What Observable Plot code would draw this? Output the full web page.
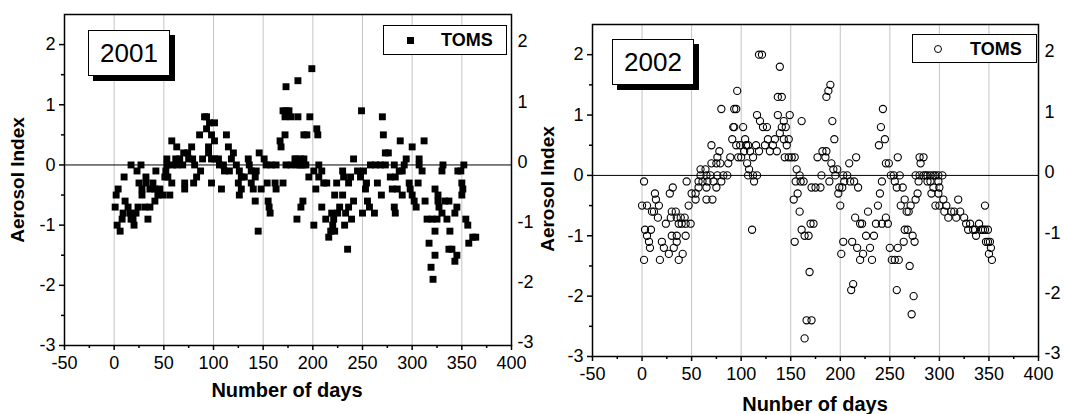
<!DOCTYPE html>
<html>
<head>
<meta charset="utf-8">
<script src="https://cdn.jsdelivr.net/npm/d3@7"></script>
<script src="https://cdn.jsdelivr.net/npm/@observablehq/plot@0.6"></script>
<style>
  html, body { margin: 0; padding: 0; background: #fff; }
  #wrap { position: relative; width: 1065px; height: 414px; overflow: hidden; font-family: "Liberation Sans", Arial, Helvetica, sans-serif; color: #000; }
  .panel { position: absolute; top: 0; }
  .title { position: absolute; font-weight: bold; font-size: 20px; white-space: nowrap; transform: translate(-50%, -50%); }
  .ytitle { position: absolute; font-weight: bold; font-size: 19px; white-space: nowrap; transform: translate(-50%, -50%) rotate(-90deg); }
  .year { position: absolute; background: #fff; border: 1px solid #000; box-shadow: 5px 5px 0 #000; font-size: 26px; display: flex; align-items: center; justify-content: center; box-sizing: border-box; }
  .legend { position: absolute; background: #fff; border: 1px solid #000; box-sizing: border-box; font-weight: bold; font-size: 18px; }
  .legend .lab { position: absolute; top: 50%; transform: translateY(-50%); }
  .sq { position: absolute; width: 7px; height: 7px; background: #000; }
  .ci { position: absolute; width: 8px; height: 8px; border: 1px solid #000; border-radius: 50%; box-sizing: border-box; }
</style>
</head>
<body>
<div id="wrap"></div>
<script>
// ---- Data ----
const days2001 = [17,27,23,10,4,2,1,3,6,11,14,9,8,16,19,20,24,22,17,25,28,28,32,32,36,39,42,41,46,44,41,31,36,34,49,56,
  53,52,51,54,53,58,58,63,62,66,59,63,69,70,74,78,79,75,71,71,80,81,87,83,86,91,93,93,96,101,98,101,95,95,89,98,101,105,106,110,98,108,
  113,115,120,118,111,116,123,126,125,126,128,131,128,135,136,138,138,140,142,143,142,145,146,148,151,153,154,155,156,157,162,163,158,163,
  170,173,178,182,167,168,173,170,173,176,172,178,172,
  185,199,185,197,204,205,191,194,249,270,271,273,276,288,300,312,241,
  183,188,191,184,187,190,193,
  206,201,209,196,206,211,214,203,184,188,190,201,209,213,219,221,220,218,216,222,224,222,230,227,225,233,236,232,239,235,230,231,236,238,241,
  245,248,251,250,254,253,255,257,262,258,263,268,273,265,269,278,283,280,285,282,283,290,282,287,290,292,294,297,298,300,302,304,306,307,307,310,
  313,315,320,325,323,317,323,319,321,323,326,326,327,330,331,330,333,335,337,338,337,340,343,345,343,345,346,349,352,350,351,350,354,356,357,361,364];
const aai2001 = [0,0,-0.1,-0.2,-0.4,-0.5,-0.7,-1.0,-1.1,-0.6,-0.7,-0.8,-0.9,-0.8,-0.9,-1.0,-0.7,-0.8,-0.9,-0.3,-0.4,-0.5,-0.2,-0.3,-0.4,-0.3,-0.1,-0.4,-0.4,-0.5,-0.6,-0.7,-0.7,-0.9,-0.5,-0.5,
  0,-0.1,-0.2,-0.2,0.1,-0.3,0.4,0.3,0.1,0.1,0,0,0,0.2,0.2,0.3,0.1,0.1,-0.3,-0.4,-0.3,0,-0.1,-0.2,0.5,0.8,0.6,0.8,0.7,0.7,0.5,0.4,0.3,0.2,0.1,0.1,0.1,0.1,0,0,-0.3,-0.4,
  0.5,0.3,0.2,0.1,-0.1,-0.1,0,-0.1,-0.3,-0.5,-0.2,-0.2,-0.4,0.1,0,-0.1,-0.3,-0.4,-0.2,-0.1,-0.6,-1.1,0.2,-0.4,0.1,0,-0.3,-0.6,-0.7,-0.8,-0.3,-0.4,0,0,
  -0.3,0,0,0.1,0.4,0.3,1.3,0.9,0.9,0.9,0.8,0.8,0.5,
  1.4,1.6,0.8,0.8,0.6,0.5,0.5,0.5,0.9,0.8,0.5,0.2,0.2,0.4,0.3,0.4,0.1,
  0.1,0.1,0.1,0,0,0,0,
  0,-0.1,-0.1,-0.2,-0.2,-0.3,-0.3,-0.4,-0.9,-0.7,-0.6,-1.0,-0.7,-0.9,-0.8,-0.9,-1.0,-1.1,-1.2,-1.1,-0.3,-0.5,-0.5,-0.7,-0.8,-0.8,-0.7,-1.0,-0.9,-1.4,-0.1,-0.2,-0.3,-0.2,-0.6,
  -0.1,-0.2,-0.1,-0.8,-0.3,-0.4,-0.6,-0.7,-0.8,0,0,0,0,-0.3,-0.5,-0.2,-0.2,-0.4,-0.4,-0.7,-0.8,-0.5,0,-0.1,-0.1,0,0.1,-0.3,-0.4,-0.5,-0.6,-0.7,-0.3,0.1,0,-0.1,
  -0.6,-0.9,-0.9,-0.9,-1.1,-1.3,-1.5,-1.7,-1.9,-0.4,-0.5,-0.6,-0.7,-0.8,0,-0.1,-0.6,-0.9,-0.6,-1.1,-1.4,-1.4,-1.6,-1.5,-0.8,-0.7,-0.1,-0.1,0,-0.3,-0.4,-0.5,-0.9,-1.0,-1.3,-1.2,-1.2];

const days2002 = [2,0,5,10,12,13,14,17,16,3,9,5,7,8,2,18,20,22,27,24,28,31,29,30,34,35,30,35,35,32,37,41,37,39,40,43,44,49,44,45,47,50,54,54,57,57,59,59,64,61,65,66,65,65,71,69,72,75,
  70,75,79,76,78,70,76,80,82,86,87,89,91,95,99,97,100,103,105,104,107,109,112,106,108,107,112,116,113,115,118,116,119,122,126,124,127,129,132,134,136,137,139,141,143,145,149,143,148,146,144,148,151,154,
  96,80,93,95,92,93,102,118,121,139,137,141,161,111,156,159,155,160,163,157,153,159,171,175,161,170,173,164,168,154,169,166,171,164,177,
  190,188,186,192,194,182,186,185,191,193,197,195,181,189,180,199,202,198,200,203,207,204,209,214,216,218,210,215,220,222,228,226,234,203,201,212,217,223,230,220,232,213,211,
  236,238,240,242,242,246,248,239,241,243,245,246,249,251,254,255,257,258,260,263,261,265,267,269,271,265,268,273,275,264,258,250,252,255,259,270,257,274,272,
  276,278,279,276,280,280,284,281,284,286,288,291,294,296,299,303,288,291,299,294,300,292,299,296,300,304,307,305,309,312,315,317,319,321,325,327,329,331,334,336,337,340,342,344,346,349,346,347,349,351,352,350,353];
const aai2002 = [-0.1,-0.5,-0.5,-0.6,-0.6,-0.3,-0.4,-0.5,-0.7,-0.9,-0.9,-1.0,-1.1,-1.2,-1.4,-1.4,-1.1,-1.2,-1.3,-0.8,-0.3,-0.2,-0.7,-0.6,-0.6,-0.7,-1.0,-1.0,-1.1,-1.2,-1.4,-1.3,-0.8,-0.7,-0.8,-0.7,-0.8,-0.8,-1.0,-0.1,-0.5,-0.3,-0.3,-0.4,-0.1,-0.2,0,0.1,0.1,-0.1,0,-0.1,-0.2,-0.4,-0.4,0,-0.1,-0.2,
  0.2,0.2,0.2,0.3,0.4,0.5,0,-0.1,0,0,0.2,0.3,0.6,0.5,0.5,0.3,0.3,0.4,0.5,0.6,0.5,0.4,0.3,0.2,0.1,0,0,0,-0.1,0.5,0.4,1.0,0.9,0.8,0.8,0.5,0.6,0.4,0.5,0.6,0.4,1.0,0.7,0.8,0.9,0.8,1.0,0.6,0.6,0.5,0.3,0.3,0.3,0.3,
  1.4,1.1,1.1,1.1,0.8,0.8,0.8,2.0,2.0,1.8,1.3,1.3,0.9,-0.9,0.1,0,-0.1,-0.1,-0.1,-0.3,-0.4,-0.6,-0.2,-0.2,-0.9,-0.8,-0.8,-1.0,-1.0,-1.1,-1.6,-2.4,-2.4,-2.7,0.3,
  1.5,1.4,1.3,0.9,0.6,0.4,0.4,0.3,0.2,0.1,0.1,0,0,-0.1,-0.2,-0.2,-0.2,-0.3,-0.5,0,0,-0.1,0.2,-0.1,0.3,-0.2,-0.1,-0.7,-0.8,-0.8,-0.6,-1.0,-1.0,-1.1,-1.3,-1.1,-1.2,-1.3,-1.2,-1.4,-1.4,-1.8,-1.9,
  -0.8,-0.5,-0.3,-0.1,-0.8,-0.7,-0.8,0.5,0.8,1.1,0.6,0.2,0.2,0,0,-0.1,-0.2,0.3,0,-0.2,-0.5,-0.4,-0.6,-0.6,-0.5,-0.9,-0.9,-1.0,-1.1,-1.1,-1.2,-1.2,-1.4,-1.4,-1.4,-1.5,-1.9,-2.0,-2.3,
  -0.4,-0.3,-0.1,0,0,0.3,0.3,0.2,0,0,0,0,0,0,0,0,-0.1,-0.1,-0.1,-0.2,-0.2,-0.3,-0.3,-0.5,-0.5,-0.4,-0.5,-0.6,-0.7,-0.6,-0.6,-0.7,-0.4,-0.6,-0.7,-0.8,-0.9,-0.8,-0.9,-0.9,-1.0,-0.8,-0.9,-0.9,-0.9,-0.9,-0.5,-1.1,-1.1,-1.1,-1.2,-1.3,-1.4];

const xTicks = [-50,0,50,100,150,200,250,300,350,400];
const xMinorTicks = [-25,25,75,125,175,225,275,325,375];
const gridDays = [0,50,100,150,200,250,300,350];
const yTicks = [-3,-2,-1,0,1,2];
const yMinorTicks = [-2.5,-1.5,-0.5,0.5,1.5];
const panels = [
  {year: "2001", xTitle: "Number of days", yTitle: "Aerosol Index", legend: "TOMS", days: days2001, vals: aai2001, symbol: "square"},
  {year: "2002", xTitle: "Nunber of days", yTitle: "Aerosol Index", legend: "TOMS", days: days2002, vals: aai2002, symbol: "circle"}
];

// ---- Layout (pixels) ----
const layout = [
  {left: 0, width: 532, mL: 64, mR: 21, mT: 14, mB: 69,
   xt: [287, 390], yt: [18, 180], yearBox: [88, 30, 82, 46], legBox: [383, 25, 124, 30], mk: 410, lab: 441},
  {left: 532, width: 533, mL: 60, mR: 27, mT: 24, mB: 58,
   xt: [815, 404], yt: [548, 189], yearBox: [612, 39, 82, 46], legBox: [912, 34, 125, 29], mk: 938, lab: 970}
];

const wrap = document.getElementById("wrap");
const fmt = d => String(d);

panels.forEach((p, i) => {
  const L = layout[i];
  const data = p.days.map((d, j) => ({day: d, ai: p.vals[j]}));
  const dotOpts = p.symbol === "square"
    ? {x: "day", y: "ai", symbol: "square", r: 3.9, fill: "#000", stroke: "none"}
    : {x: "day", y: "ai", symbol: "circle", r: 3.6, fill: "none", stroke: "#000", strokeWidth: 1.1};
  const chart = Plot.plot({
    width: L.width, height: 414,
    marginLeft: L.mL, marginRight: L.mR, marginTop: L.mT, marginBottom: L.mB,
    x: {domain: [-50, 400], label: null},
    y: {domain: [-3, 2.5], label: null},
    style: {fontFamily: "'Liberation Sans', Arial, Helvetica, sans-serif", fontSize: "18px", color: "#000", background: "transparent", overflow: "visible"},
    marks: [
      Plot.ruleX(gridDays, {stroke: "#c4c4c4", strokeWidth: 1}),
      Plot.ruleY([0], {stroke: "#000", strokeWidth: 1}),
      Plot.dot(data, dotOpts),
      Plot.frame({stroke: "#000", strokeWidth: 1.5}),
      Plot.axisY(yTicks, {anchor: "left", tickSize: 5, tickPadding: 4, tickFormat: fmt, label: null, strokeWidth: 1.5}),
      Plot.axisY(yMinorTicks, {anchor: "left", tickSize: 3, tickFormat: () => "", label: null, strokeWidth: 1.5}),
      Plot.axisY(yTicks, {anchor: "right", tickSize: 0, tickPadding: 6, dy: -3, tickFormat: fmt, label: null}),
      Plot.axisX(xTicks, {anchor: "bottom", tickSize: 5, tickPadding: 6, tickFormat: fmt, label: null, strokeWidth: 1.5}),
      Plot.axisX(xMinorTicks, {anchor: "bottom", tickSize: 3, tickFormat: () => "", label: null, strokeWidth: 1.5})
    ]
  });
  const holder = document.createElement("div");
  holder.className = "panel";
  holder.style.left = L.left + "px";
  holder.appendChild(chart);
  wrap.appendChild(holder);

  const xt = document.createElement("div");
  xt.className = "title"; xt.textContent = p.xTitle;
  xt.style.left = L.xt[0] + "px"; xt.style.top = L.xt[1] + "px";
  wrap.appendChild(xt);

  const yt = document.createElement("div");
  yt.className = "ytitle"; yt.textContent = p.yTitle;
  yt.style.left = L.yt[0] + "px"; yt.style.top = L.yt[1] + "px";
  wrap.appendChild(yt);

  const yb = document.createElement("div");
  yb.className = "year"; yb.textContent = p.year;
  const [bx, by, bw, bh] = L.yearBox;
  Object.assign(yb.style, {left: bx + "px", top: by + "px", width: bw + "px", height: bh + "px"});
  wrap.appendChild(yb);

  const lg = document.createElement("div");
  lg.className = "legend";
  const [lx, ly, lw, lh] = L.legBox;
  Object.assign(lg.style, {left: lx + "px", top: ly + "px", width: lw + "px", height: lh + "px"});
  const mk = document.createElement("div");
  mk.className = p.symbol === "square" ? "sq" : "ci";
  const ms = p.symbol === "square" ? 7 : 8;
  mk.style.left = (L.mk - lx - ms / 2 - 1) + "px";
  mk.style.top = ((lh - 2) / 2 - ms / 2) + "px";
  lg.appendChild(mk);
  const lab = document.createElement("span");
  lab.className = "lab"; lab.textContent = p.legend;
  lab.style.left = (L.lab - lx - 1) + "px";
  lg.appendChild(lab);
  wrap.appendChild(lg);
});
</script>
</body>
</html>
